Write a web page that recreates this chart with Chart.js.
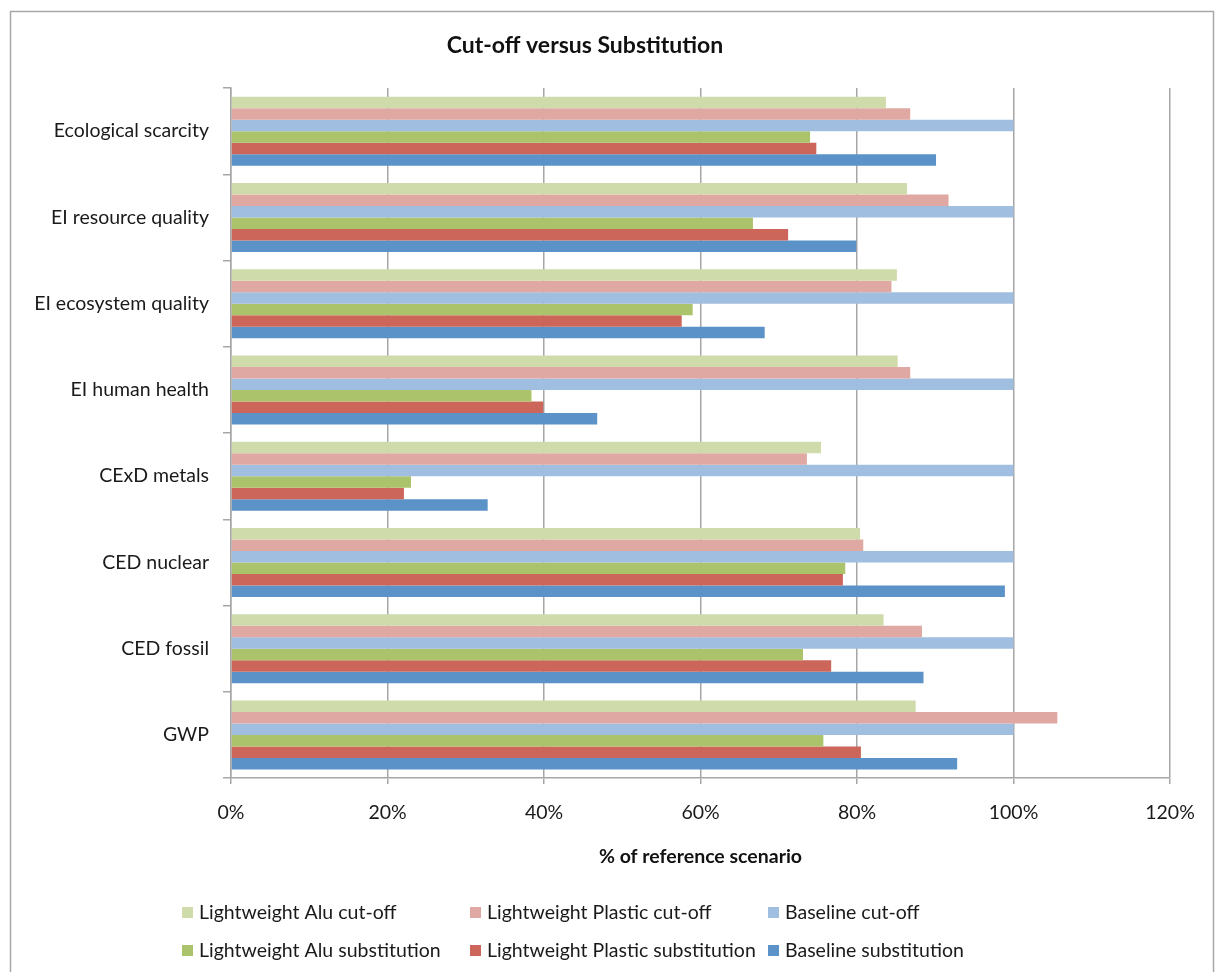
<!DOCTYPE html>
<html>
<head>
<meta charset="utf-8">
<script src="https://cdn.jsdelivr.net/npm/chart.js@4/dist/chart.umd.min.js"></script>
<style>
  html, body { margin: 0; padding: 0; background: #ffffff; }
  #wrap { width: 1218px; height: 972px; position: relative; }
</style>
</head>
<body>
<div id="wrap"><canvas id="chart" width="1218" height="972"></canvas></div>
<script>
// Impact categories, listed top to bottom
const categories = [
  'Ecological scarcity',
  'EI resource quality',
  'EI ecosystem quality',
  'EI human health',
  'CExD metals',
  'CED nuclear',
  'CED fossil',
  'GWP'
];

// Results in % of the reference scenario
const lightAluCutoff       = [83.7, 86.4, 85.1, 85.2, 75.4, 80.4, 83.4, 87.5];
const lightPlasticCutoff   = [86.8, 91.7, 84.4, 86.8, 73.6, 80.8, 88.3, 105.6];
const baselineCutoff       = [100, 100, 100, 100, 100, 100, 100, 100];
const lightAluSubst        = [74.0, 66.7, 59.0, 38.4, 23.0, 78.5, 73.1, 75.7];
const lightPlasticSubst    = [74.8, 71.2, 57.6, 39.9, 22.1, 78.2, 76.7, 80.5];
const baselineSubst        = [90.1, 79.9, 68.2, 46.8, 32.8, 98.9, 88.5, 92.8];

const seriesNames = [
  'Lightweight Alu cut-off',
  'Lightweight Plastic cut-off',
  'Baseline cut-off',
  'Lightweight Alu substitution',
  'Lightweight Plastic substitution',
  'Baseline substitution'
];

const xTicks = [0, 20, 40, 60, 80, 100, 120];

const FONT = 'Lato, "Liberation Sans", sans-serif';
const TEXT_SIZE = 19.5;
const colors = ['#CFDBAB', '#E0A8A3', '#A0BEDF', '#ABC36A', '#CC665A', '#5B92C7'];
const seriesData = [lightAluCutoff, lightPlasticCutoff, baselineCutoff,
                    lightAluSubst, lightPlasticSubst, baselineSubst];

// Outer frame around the whole chart
const framePlugin = {
  id: 'frame',
  beforeDraw(chart) {
    const c = chart.ctx;
    c.save();
    c.fillStyle = '#ffffff';
    c.fillRect(0, 0, chart.width, chart.height);
    c.strokeStyle = '#a8a8a8';
    c.lineWidth = 1.5;
    c.strokeRect(10.5, 11.5, 1203, 1000);
    c.restore();
  }
};

// Two-row legend laid out in three columns
const gridLegend = {
  id: 'gridLegend',
  afterDraw(chart) {
    const c = chart.ctx;
    const colX = [182, 470, 768];
    const rowY = [913, 951];
    c.save();
    c.font = TEXT_SIZE + 'px ' + FONT;
    c.textBaseline = 'middle';
    c.textAlign = 'left';
    chart.data.datasets.forEach((ds, i) => {
      const x = colX[i % 3];
      const y = rowY[Math.floor(i / 3)];
      c.fillStyle = ds.backgroundColor;
      c.fillRect(x, y - 6, 11, 11);
      c.fillStyle = '#1a1a1a';
      c.fillText(ds.label, x + 17, y);
    });
    c.restore();
  }
};

const BOTTOM_PAD = 100;

new Chart(document.getElementById('chart'), {
  type: 'bar',
  data: {
    labels: categories,
    datasets: seriesNames.map((name, i) => ({
      label: name,
      data: seriesData[i],
      backgroundColor: colors[i],
      borderWidth: 0,
      categoryPercentage: 0.8,
      barPercentage: 1.0
    }))
  },
  options: {
    indexAxis: 'y',
    responsive: false,
    animation: false,
    devicePixelRatio: 1,
    layout: { padding: { left: 0, right: 48, top: 0, bottom: BOTTOM_PAD } },
    plugins: {
      legend: { display: false },
      tooltip: { enabled: false },
      title: {
        display: true,
        text: 'Cut-off versus Substitution',
        color: '#111',
        font: { family: FONT, size: 23, weight: 'bold' },
        padding: { top: 32, bottom: 28.4 }
      }
    },
    scales: {
      x: {
        min: 0,
        max: 120,
        afterBuildTicks(scale) { scale.ticks = xTicks.map(v => ({ value: v })); },
        afterFit(scale) { scale.height = 972 - 778 - BOTTOM_PAD; },
        ticks: {
          callback: v => v + '%',
          color: '#1a1a1a',
          font: { family: FONT, size: TEXT_SIZE },
          padding: 17,
          maxRotation: 0
        },
        grid: {
          color: '#a6a6a6',
          lineWidth: 1.5,
          tickLength: 6,
          drawTicks: true
        },
        border: { color: '#a6a6a6', width: 1.5 },
        title: {
          display: true,
          text: '% of reference scenario',
          color: '#111',
          font: { family: FONT, size: TEXT_SIZE, weight: 'bold' },
          padding: { top: 4, bottom: 3.3 }
        }
      },
      y: {
        afterFit(scale) { scale.width = 231; },
        ticks: {
          color: '#1a1a1a',
          font: { family: FONT, size: TEXT_SIZE },
          padding: 14
        },
        grid: {
          offset: true,
          drawOnChartArea: false,
          drawTicks: true,
          tickLength: 8,
          color: '#a6a6a6',
          lineWidth: 1.5
        },
        border: { color: '#a6a6a6', width: 1.5 }
      }
    }
  },
  plugins: [framePlugin, gridLegend]
});
</script>
</body>
</html>
